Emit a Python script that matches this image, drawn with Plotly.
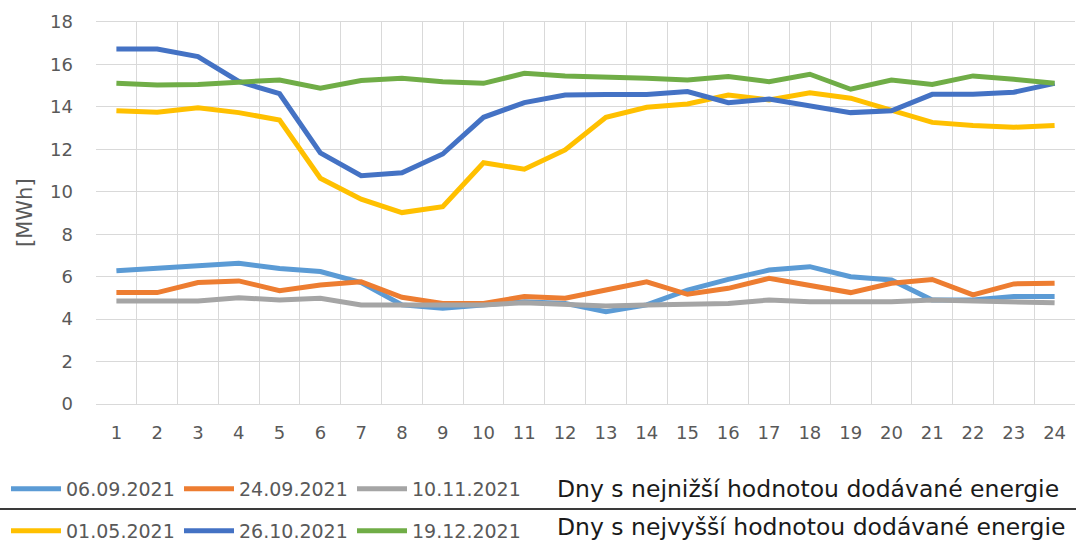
import plotly.graph_objects as go

hours = [str(h) for h in range(1, 25)]

d_06_09 = [6.28, 6.39, 6.47, 6.63, 6.39, 6.24, 5.72, 4.67, 4.51, 4.67, 4.82, 4.74,
           4.35, 4.67, 5.37, 5.87, 6.31, 6.47, 6.00, 5.84, 4.90, 4.90, 5.06, 5.06]
d_24_09 = [5.25, 5.25, 5.72, 5.80, 5.34, 5.61, 5.76, 5.03, 4.74, 4.74, 5.06, 4.98,
           5.37, 5.76, 5.17, 5.45, 5.92, 5.56, 5.25, 5.69, 5.87, 5.14, 5.66, 5.69]
d_10_11 = [4.85, 4.85, 4.85, 5.01, 4.90, 4.98, 4.67, 4.67, 4.67, 4.67, 4.77, 4.67,
           4.62, 4.67, 4.70, 4.74, 4.90, 4.82, 4.82, 4.82, 4.90, 4.85, 4.77, 4.77]
d_01_05 = [13.82, 13.75, 13.96, 13.73, 13.38, 10.64, 9.65, 9.02, 9.30, 11.37, 11.06, 11.97,
           13.51, 13.98, 14.14, 14.56, 14.33, 14.67, 14.41, 13.85, 13.27, 13.12, 13.04, 13.12]
d_26_10 = [16.73, 16.73, 16.37, 15.20, 14.62, 11.83, 10.76, 10.90, 11.78, 13.51, 14.20, 14.56,
           14.58, 14.58, 14.72, 14.20, 14.37, 14.04, 13.73, 13.82, 14.59, 14.59, 14.69, 15.11]
d_19_12 = [15.11, 15.03, 15.06, 15.19, 15.27, 14.88, 15.24, 15.35, 15.19, 15.11, 15.58, 15.46,
           15.43, 15.35, 15.27, 15.43, 15.19, 15.54, 14.83, 15.27, 15.06, 15.46, 15.30, 15.11]

low_series = [("06.09.2021", d_06_09, "#5B9BD5"),
              ("24.09.2021", d_24_09, "#ED7D31"),
              ("10.11.2021", d_10_11, "#A5A5A5")]
high_series = [("01.05.2021", d_01_05, "#FFC000"),
               ("26.10.2021", d_26_10, "#4472C4"),
               ("19.12.2021", d_19_12, "#70AD47")]

low_title = "Dny s nejnižší hodnotou dodávané energie"
high_title = "Dny s nejvyšší hodnotou dodávané energie"

FONT = "DejaVu Sans"
fig = go.Figure()
for name, vals, col in low_series:
    fig.add_trace(go.Scatter(x=hours, y=vals, name=name, mode="lines",
                             line=dict(color=col, width=5), legend="legend"))
for name, vals, col in high_series:
    fig.add_trace(go.Scatter(x=hours, y=vals, name=name, mode="lines",
                             line=dict(color=col, width=5), legend="legend2"))

W, H = 1076, 543
L, R, T, B = 96, 1, 22, 139


def cx(p):
    return p / W


def cy(p):
    return (H - p) / H


legend_common = dict(orientation="h", xanchor="left", yanchor="middle",
                     xref="container", yref="container",
                     font=dict(family=FONT, size=19, color="#595959"),
                     bgcolor="rgba(0,0,0,0)", itemwidth=50, tracegroupgap=0,
                     traceorder="normal", entrywidth=108)

fig.update_layout(
    width=W, height=H,
    margin=dict(l=L, r=R, t=T, b=B, autoexpand=False),
    paper_bgcolor="white", plot_bgcolor="white",
    font=dict(family=FONT, color="#595959"),
    showlegend=True,
    legend=dict(x=cx(6), y=cy(489), **legend_common),
    legend2=dict(x=cx(6), y=cy(531), **legend_common),
    xaxis=dict(type="category", range=[-0.5, 23.5], tickson="boundaries",
               automargin=False,
               showgrid=True, gridcolor="#D9D9D9", gridwidth=1,
               showline=True, linecolor="#D9D9D9", linewidth=1, mirror=True,
               ticks="", ticklabelstandoff=12,
               tickfont=dict(family=FONT, size=18, color="#595959")),
    yaxis=dict(range=[0, 18], dtick=2, showgrid=True, gridcolor="#D9D9D9",
               automargin=False,
               gridwidth=1, zeroline=False, showline=False, ticks="",
               ticklabelstandoff=22,
               tickfont=dict(family=FONT, size=18, color="#595959")),
)

fig.add_annotation(text="[MWh]", xref="paper", yref="paper",
                   x=(25 - L) / (W - L - R), y=(H - B - 213) / (H - T - B),
                   xanchor="center", yanchor="middle", textangle=-90,
                   showarrow=False, font=dict(family=FONT, size=21, color="#595959"))
fig.add_annotation(text=low_title, xref="paper", yref="paper",
                   x=(555 - L) / (W - L - R), y=(H - B - 489) / (H - T - B),
                   xanchor="left", yanchor="middle",
                   showarrow=False, font=dict(family=FONT, size=23.5, color="#1a1a1a"))
fig.add_annotation(text=high_title, xref="paper", yref="paper",
                   x=(555 - L) / (W - L - R), y=(H - B - 543) / (H - T - B),
                   xanchor="left", yanchor="bottom",
                   showarrow=False, font=dict(family=FONT, size=23.5, color="#1a1a1a"))
fig.add_shape(type="line", xref="paper", yref="paper",
              x0=-L / (W - L - R), x1=(W - L) / (W - L - R),
              y0=(H - B - 509) / (H - T - B), y1=(H - B - 509) / (H - T - B),
              line=dict(color="#3a3a3a", width=2))

fig.write_html("out.html", config={"displayModeBar": False},
               post_script="document.body.style.margin='0';document.body.style.overflow='hidden';")
